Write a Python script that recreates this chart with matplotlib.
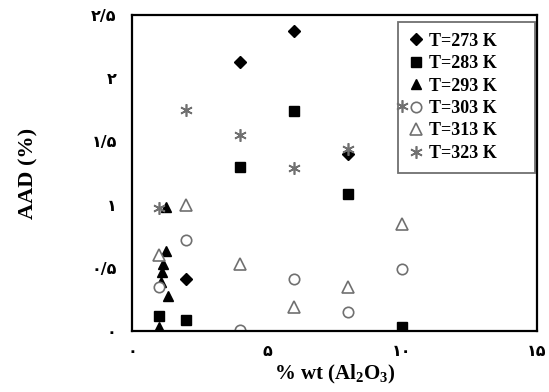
import matplotlib
matplotlib.use('Agg')
import matplotlib.pyplot as plt

plt.rcParams['mathtext.fontset'] = 'custom'
plt.rcParams['mathtext.rm'] = 'Liberation Serif:bold'
plt.rcParams['mathtext.bf'] = 'Liberation Serif:bold'

# AAD (%) versus nanoparticle loading, one series per temperature
labels = ['T=273 K', 'T=283 K', 'T=293 K', 'T=303 K', 'T=313 K', 'T=323 K']

x273 = [2, 4, 6, 8]
y273 = [0.41, 2.13, 2.37, 1.40]

x283 = [1, 2, 4, 6, 8, 10]
y283 = [0.12, 0.085, 1.30, 1.74, 1.08, 0.035]

x293 = [1.27, 1.27, 1.15, 1.13, 1.09, 1.34, 1.0]
y293 = [0.98, 0.63, 0.53, 0.47, 0.39, 0.28, 0.03]

x303 = [1, 2, 4, 6, 8, 10]
y303 = [0.35, 0.72, 0.01, 0.41, 0.15, 0.49]

x313 = [1, 2, 4, 6, 8, 10]
y313 = [0.60, 1.00, 0.53, 0.19, 0.35, 0.85]

x323 = [1, 2, 4, 6, 8, 10]
y323 = [0.97, 1.75, 1.55, 1.29, 1.44, 1.78]

xticks = [0, 5, 10, 15]
yticks = [0, 0.5, 1, 1.5, 2, 2.5]

fa = str.maketrans('0123456789', '۰۱۲۳۴۵۶۷۸۹')


def persian(v):
    s = ('%g' % v).translate(fa)
    return s.replace('.', '/')


fig = plt.figure(figsize=(5.49, 3.92), dpi=100)
ax = fig.add_axes([0.2404, 0.1556, 0.7376, 0.8061])

grey = '#707070'
ax.plot(x273, y273, 'D', color='black', ms=6.5, ls='none', label=labels[0])
ax.plot(x283, y283, 's', color='black', ms=7, ls='none', label=labels[1])
ax.plot(x293, y293, '^', color='black', ms=7.5, ls='none', label=labels[2])
ax.plot(x303, y303, 'o', mfc='white', mec=grey, mew=1.2, ms=7.5, ls='none',
        label=labels[3])
ax.plot(x313, y313, '^', mfc='white', mec=grey, mew=1.2, ms=8, ls='none',
        label=labels[4])
ax.plot(x323, y323, marker=(6, 2, 0), color=grey, mew=1.2, ms=9, ls='none',
        label=labels[5])

ax.set_xlim(0, 15)
ax.set_ylim(0, 2.5)
ax.set_xticks(xticks)
ax.set_yticks(yticks)
ax.set_xticklabels([persian(v) for v in xticks])
ax.set_yticklabels([persian(v) for v in yticks])
ax.tick_params(length=0, labelsize=11.5)
ax.tick_params(axis='x', pad=9)
ax.tick_params(axis='y', pad=11)
for t in ax.get_xticklabels() + ax.get_yticklabels():
    t.set_fontfamily('DejaVu Sans')
    t.set_fontweight('bold')

for sp in ax.spines.values():
    sp.set_linewidth(1.6)

ax.set_ylabel('AAD (%)', fontfamily='Liberation Serif', fontweight='bold',
              fontsize=16, labelpad=38)
ax.set_xlabel(r'% wt (Al$_{\mathrm{2}}$O$_{\mathrm{3}}$)',
              fontfamily='Liberation Serif', fontweight='bold', fontsize=15,
              labelpad=3)

leg = ax.legend(loc='upper left', bbox_to_anchor=(0.657, 0.5, 0.338, 0.478),
                mode='expand',
                prop={'family': 'Liberation Serif', 'weight': 'bold', 'size': 13},
                fancybox=False, framealpha=1, edgecolor=grey,
                handlelength=0.8, handletextpad=0.3, labelspacing=0.3,
                borderpad=0.6, borderaxespad=0)
leg.get_frame().set_linewidth(1.3)
# the point at 10 % sits on the legend edge and is drawn over it
leg.set_zorder(1.5)

fig.savefig('out.png', dpi=100)
